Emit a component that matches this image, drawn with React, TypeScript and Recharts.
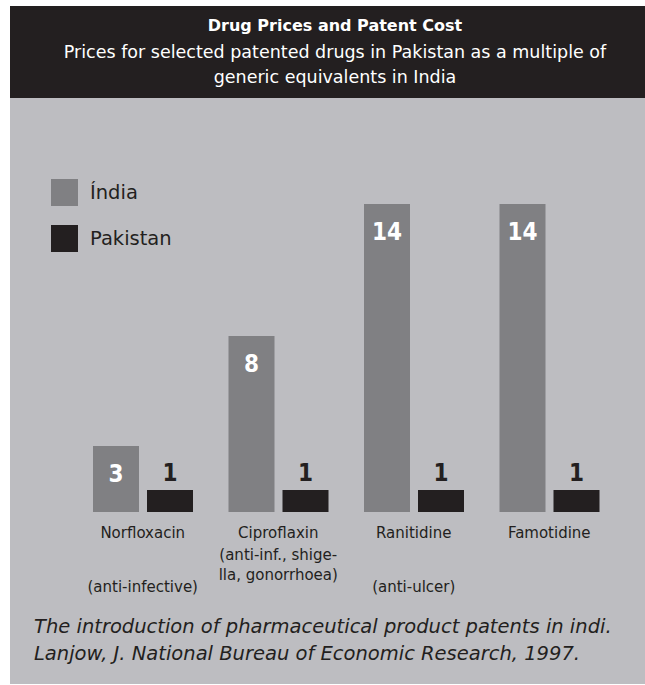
import { Bar, BarChart, LabelList, Legend, XAxis, YAxis } from "recharts";

const categories = ["Norfloxacin", "Ciproflaxin", "Ranitidine", "Famotidine"];
const notes = [
  ["(anti-infective)"],
  ["(anti-inf., shige-", "lla, gonorrhoea)"],
  ["(anti-ulcer)"],
  [],
];
const india = [3, 8, 14, 14];
const pakistan = [1, 1, 1, 1];

const DARK = "#231f20";
const GREY = "#808083";
const PANEL = "#bdbdc1";
const FONT = "'DejaVu Sans', sans-serif";
const NUM_FONT = "'DejaVu Sans Condensed', 'DejaVu Sans', sans-serif";

const data = categories.map((name, i) => ({
  name,
  India: india[i],
  Pakistan: pakistan[i],
}));

const DrugTick = (props: any) => {
  const { x, y, payload, index } = props;
  const sub = notes[index] || [];
  // a single note sits lower, a wrapped note follows the name directly
  const subTop = sub.length === 1 ? 80 : 48;
  return (
    <text x={x} y={y} textAnchor="middle" fill={DARK} fontSize={15} fontFamily={FONT}>
      <tspan x={x} y={y + 26}>
        {payload.value}
      </tspan>
      {sub.map((l, i) => (
        <tspan key={i} x={x} y={y + subTop + i * 20}>
          {l}
        </tspan>
      ))}
    </text>
  );
};

const LegendBox = (props: any) => (
  <div>
    {props.payload.map((p: any) => (
      <div key={p.value} style={{ display: "flex", alignItems: "center", height: 46 }}>
        <span style={{ width: 27, height: 27, background: p.color, display: "inline-block" }} />
        <span style={{ marginLeft: 12, fontSize: 19.5, color: DARK, fontFamily: FONT }}>
          {p.value === "India" ? "Índia" : p.value}
        </span>
      </div>
    ))}
  </div>
);

export default function App() {
  return (
    <div
      style={{
        position: "absolute",
        left: 0,
        top: 0,
        width: 645,
        height: 685,
        background: "#fff",
        overflow: "hidden",
      }}
    >
      <div
        style={{
          position: "absolute",
          left: 10,
          top: 6,
          width: 635,
          height: 92,
          background: DARK,
          color: "#fff",
          textAlign: "center",
          fontFamily: FONT,
          paddingLeft: 15,
          paddingTop: 8,
          boxSizing: "border-box",
        }}
      >
        <div style={{ fontWeight: "bold", fontSize: 16, lineHeight: "24px" }}>
          Drug Prices and Patent Cost
        </div>
        <div style={{ fontSize: 17.5, lineHeight: "25px", marginTop: 2 }}>
          Prices for selected patented drugs in Pakistan as a multiple of
          <br />
          generic equivalents in India
        </div>
      </div>
      <div style={{ position: "absolute", left: 10, top: 98, width: 635, height: 586, background: PANEL }}>
        <BarChart
          width={622}
          height={520}
          data={data}
          margin={{ top: 106, right: 15, left: 65, bottom: 0 }}
          barSize={46}
          barGap={8}
        >
          <XAxis
            dataKey="name"
            axisLine={false}
            tickLine={false}
            tickSize={0}
            tickMargin={0}
            height={106}
            interval={0}
            tick={<DrugTick />}
          />
          <YAxis hide domain={[0, 14]} />
          <Legend
            layout="vertical"
            align="center"
            verticalAlign="middle"
            content={<LegendBox />}
            wrapperStyle={{ left: 41, top: 71, width: 200 }}
          />
          <Bar dataKey="India" fill={GREY} isAnimationActive={false}>
            <LabelList
              dataKey="India"
              position="insideTop"
              offset={19}
              fill="#fff"
              fontSize={24}
              fontWeight="bold"
              fontFamily={NUM_FONT}
            />
          </Bar>
          <Bar dataKey="Pakistan" fill={DARK} isAnimationActive={false}>
            <LabelList
              dataKey="Pakistan"
              position="top"
              offset={9}
              fill={DARK}
              fontSize={24}
              fontWeight="bold"
              fontFamily={NUM_FONT}
            />
          </Bar>
        </BarChart>
        <div
          style={{
            position: "absolute",
            left: 24,
            top: 515,
            fontFamily: FONT,
            fontStyle: "italic",
            fontSize: 19.5,
            lineHeight: "27px",
            color: DARK,
            whiteSpace: "nowrap",
          }}
        >
          The introduction of pharmaceutical product patents in indi.
          <br />
          Lanjow, J. National Bureau of Economic Research, 1997.
        </div>
      </div>
    </div>
  );
}
